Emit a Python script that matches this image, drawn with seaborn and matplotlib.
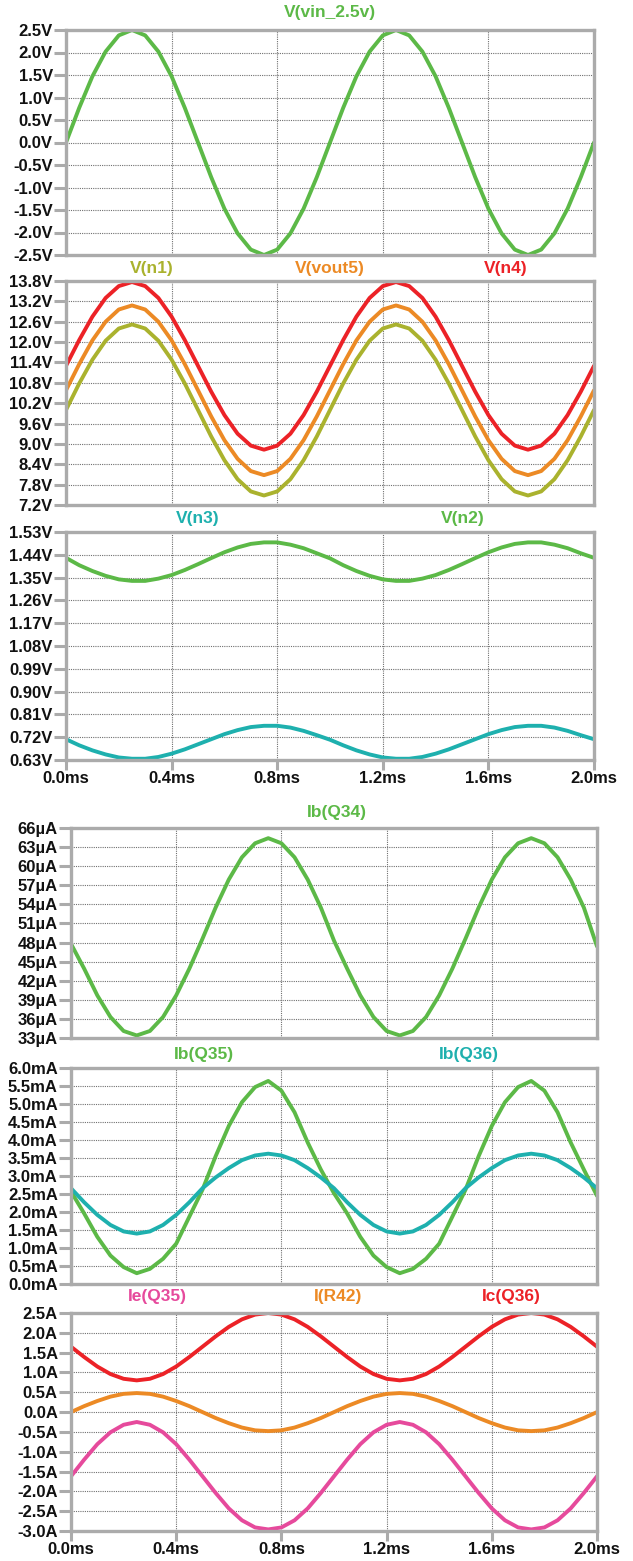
import matplotlib
matplotlib.use("Agg")
import matplotlib.pyplot as plt
import seaborn as sns
import pandas as pd

# ---------------- data ----------------
t_ms = [0.00, 0.05, 0.10, 0.15, 0.20, 0.25, 0.30, 0.35, 0.40, 0.45,
        0.50, 0.55, 0.60, 0.65, 0.70, 0.75, 0.80, 0.85, 0.90, 0.95,
        1.00, 1.05, 1.10, 1.15, 1.20, 1.25, 1.30, 1.35, 1.40, 1.45,
        1.50, 1.55, 1.60, 1.65, 1.70, 1.75, 1.80, 1.85, 1.90, 1.95, 2.00]

v_vin = [0.00, 0.77, 1.47, 2.02, 2.38, 2.50, 2.38, 2.02, 1.47, 0.77,
         0.00, -0.77, -1.47, -2.02, -2.38, -2.50, -2.38, -2.02, -1.47, -0.77,
         0.00, 0.77, 1.47, 2.02, 2.38, 2.50, 2.38, 2.02, 1.47, 0.77,
         0.00, -0.77, -1.47, -2.02, -2.38, -2.50, -2.38, -2.02, -1.47, -0.77, 0.00]

v_n4 = [11.30, 12.06, 12.75, 13.30, 13.65, 13.77, 13.65, 13.30, 12.75, 12.06,
        11.30, 10.54, 9.85, 9.30, 8.95, 8.83, 8.95, 9.30, 9.85, 10.54,
        11.30, 12.06, 12.75, 13.30, 13.65, 13.77, 13.65, 13.30, 12.75, 12.06,
        11.30, 10.54, 9.85, 9.30, 8.95, 8.83, 8.95, 9.30, 9.85, 10.54, 11.30]
v_vout5 = [10.58, 11.35, 12.05, 12.60, 12.96, 13.08, 12.96, 12.60, 12.05, 11.35,
           10.58, 9.81, 9.11, 8.56, 8.20, 8.08, 8.20, 8.56, 9.11, 9.81,
           10.58, 11.35, 12.05, 12.60, 12.96, 13.08, 12.96, 12.60, 12.05, 11.35,
           10.58, 9.81, 9.11, 8.56, 8.20, 8.08, 8.20, 8.56, 9.11, 9.81, 10.58]
v_n1 = [10.00, 10.78, 11.48, 12.04, 12.40, 12.52, 12.40, 12.04, 11.48, 10.78,
        10.00, 9.22, 8.52, 7.96, 7.60, 7.48, 7.60, 7.96, 8.52, 9.22,
        10.00, 10.78, 11.48, 12.04, 12.40, 12.52, 12.40, 12.04, 11.48, 10.78,
        10.00, 9.22, 8.52, 7.96, 7.60, 7.48, 7.60, 7.96, 8.52, 9.22, 10.00]

v_n2 = [1.428, 1.399, 1.376, 1.357, 1.343, 1.337, 1.337, 1.346, 1.360, 1.380,
        1.403, 1.427, 1.450, 1.469, 1.483, 1.489, 1.489, 1.480, 1.466, 1.446,
        1.426, 1.399, 1.376, 1.357, 1.343, 1.337, 1.337, 1.346, 1.360, 1.380,
        1.403, 1.427, 1.450, 1.469, 1.483, 1.489, 1.489, 1.480, 1.466, 1.446, 1.428]
v_n3 = [0.712, 0.688, 0.668, 0.652, 0.640, 0.635, 0.635, 0.642, 0.655, 0.672,
        0.692, 0.712, 0.732, 0.748, 0.760, 0.765, 0.765, 0.758, 0.745, 0.728,
        0.710, 0.688, 0.668, 0.652, 0.640, 0.635, 0.635, 0.642, 0.655, 0.672,
        0.692, 0.712, 0.732, 0.748, 0.760, 0.765, 0.765, 0.758, 0.745, 0.728, 0.712]

ib_q34 = [47.8, 43.9, 39.7, 36.3, 34.1, 33.4, 34.1, 36.3, 39.7, 43.9,
          48.6, 53.5, 57.9, 61.4, 63.6, 64.4, 63.6, 61.4, 57.9, 53.5,
          48.3, 43.9, 39.7, 36.3, 34.1, 33.4, 34.1, 36.3, 39.7, 43.9,
          48.6, 53.5, 57.9, 61.4, 63.6, 64.4, 63.6, 61.4, 57.9, 53.5, 47.4]

ib_q35 = [2.57, 1.96, 1.31, 0.79, 0.47, 0.30, 0.42, 0.70, 1.12, 1.87,
          2.62, 3.55, 4.39, 5.05, 5.47, 5.64, 5.37, 4.77, 3.93, 3.18,
          2.52, 1.96, 1.31, 0.79, 0.47, 0.30, 0.42, 0.70, 1.12, 1.87,
          2.62, 3.55, 4.39, 5.05, 5.47, 5.64, 5.37, 4.77, 3.93, 3.18, 2.45]
ib_q36 = [2.66, 2.27, 1.92, 1.64, 1.46, 1.40, 1.46, 1.64, 1.92, 2.27,
          2.66, 2.96, 3.22, 3.44, 3.57, 3.62, 3.57, 3.44, 3.22, 2.96,
          2.66, 2.27, 1.92, 1.64, 1.46, 1.40, 1.46, 1.64, 1.92, 2.27,
          2.66, 2.96, 3.22, 3.44, 3.57, 3.62, 3.57, 3.44, 3.22, 2.96, 2.66]

ic_q36 = [1.65, 1.39, 1.15, 0.96, 0.84, 0.80, 0.84, 0.96, 1.15, 1.39,
          1.65, 1.91, 2.15, 2.34, 2.46, 2.50, 2.46, 2.34, 2.15, 1.91,
          1.65, 1.39, 1.15, 0.96, 0.84, 0.80, 0.84, 0.96, 1.15, 1.39,
          1.65, 1.91, 2.15, 2.34, 2.46, 2.50, 2.46, 2.34, 2.15, 1.91, 1.65]
i_r42 = [0.00, 0.15, 0.28, 0.39, 0.46, 0.48, 0.46, 0.39, 0.28, 0.15,
         0.00, -0.15, -0.28, -0.39, -0.46, -0.48, -0.46, -0.39, -0.28, -0.15,
         0.00, 0.15, 0.28, 0.39, 0.46, 0.48, 0.46, 0.39, 0.28, 0.15,
         0.00, -0.15, -0.28, -0.39, -0.46, -0.48, -0.46, -0.39, -0.28, -0.15, 0.00]
ie_q35 = [-1.62, -1.20, -0.81, -0.51, -0.32, -0.25, -0.32, -0.51, -0.81, -1.20,
          -1.62, -2.04, -2.43, -2.73, -2.91, -2.96, -2.91, -2.73, -2.43, -2.04,
          -1.62, -1.20, -0.81, -0.51, -0.32, -0.25, -0.32, -0.51, -0.81, -1.20,
          -1.62, -2.04, -2.43, -2.73, -2.91, -2.96, -2.91, -2.73, -2.43, -2.04, -1.62]

x_ticks = [0.0, 0.4, 0.8, 1.2, 1.6, 2.0]
x_tick_labels = ["0.0ms", "0.4ms", "0.8ms", "1.2ms", "1.6ms", "2.0ms"]

# ---------------- style ----------------
sns.set_theme(style="white")
plt.rcParams["font.family"] = ["Liberation Sans", "DejaVu Sans"]

GREEN = "#5cb947"
RED = "#ec2227"
ORANGE = "#ec8a25"
OLIVE = "#aab22e"
TEAL = "#1eb0ae"
PINK = "#e64a9c"
FRAME = "#ababab"
GRID = "#707070"
FS_TICK = 12
FS_TITLE = 12.5

W, H = 633, 1561
fig = plt.figure(figsize=(W / 100, H / 100), dpi=100)
fig.patch.set_facecolor("white")


def make_ax(x0, x1, y0, y1):
    return fig.add_axes([x0 / W, 1 - y1 / H, (x1 - x0) / W, (y1 - y0) / H])


panels = [
    dict(rect=(66, 594, 30, 255), ylim=(-2.5, 2.5),
         yticks=[-2.5, -2.0, -1.5, -1.0, -0.5, 0.0, 0.5, 1.0, 1.5, 2.0, 2.5],
         fmt=lambda v: f"{v:.1f}V",
         series=[("V(vin_2.5v)", v_vin, GREEN)],
         titles=[("V(vin_2.5v)", 0.50, GREEN)], bottom=False, ty=18),
    dict(rect=(66, 594, 281, 505), ylim=(7.2, 13.8),
         yticks=[7.2, 7.8, 8.4, 9.0, 9.6, 10.2, 10.8, 11.4, 12.0, 12.6, 13.2, 13.8],
         fmt=lambda v: f"{v:.1f}V",
         series=[("V(n1)", v_n1, OLIVE), ("V(vout5)", v_vout5, ORANGE), ("V(n4)", v_n4, RED)],
         titles=[("V(n1)", 0.163, OLIVE), ("V(vout5)", 0.50, ORANGE), ("V(n4)", 0.833, RED)],
         bottom=False, ty=13),
    dict(rect=(66, 594, 532, 760), ylim=(0.63, 1.53),
         yticks=[0.63, 0.72, 0.81, 0.90, 0.99, 1.08, 1.17, 1.26, 1.35, 1.44, 1.53],
         fmt=lambda v: f"{v:.2f}V",
         series=[("V(n3)", v_n3, TEAL), ("V(n2)", v_n2, GREEN)],
         titles=[("V(n3)", 0.25, TEAL), ("V(n2)", 0.752, GREEN)], bottom=True, ty=13),
    dict(rect=(71, 597, 828, 1038), ylim=(33, 66),
         yticks=[33, 36, 39, 42, 45, 48, 51, 54, 57, 60, 63, 66],
         fmt=lambda v: f"{v:.0f}µA",
         series=[("Ib(Q34)", ib_q34, GREEN)],
         titles=[("Ib(Q34)", 0.505, GREEN)], bottom=False, ty=16),
    dict(rect=(71, 597, 1068, 1284), ylim=(0.0, 6.0),
         yticks=[0.0, 0.5, 1.0, 1.5, 2.0, 2.5, 3.0, 3.5, 4.0, 4.5, 5.0, 5.5, 6.0],
         fmt=lambda v: f"{v:.1f}mA",
         series=[("Ib(Q35)", ib_q35, GREEN), ("Ib(Q36)", ib_q36, TEAL)],
         titles=[("Ib(Q35)", 0.252, GREEN), ("Ib(Q36)", 0.757, TEAL)], bottom=False, ty=13),
    dict(rect=(71, 597, 1313, 1531), ylim=(-3.0, 2.5),
         yticks=[-3.0, -2.5, -2.0, -1.5, -1.0, -0.5, 0.0, 0.5, 1.0, 1.5, 2.0, 2.5],
         fmt=lambda v: f"{v:.1f}A",
         series=[("Ie(Q35)", ie_q35, PINK), ("I(R42)", i_r42, ORANGE), ("Ic(Q36)", ic_q36, RED)],
         titles=[("Ie(Q35)", 0.164, PINK), ("I(R42)", 0.508, ORANGE), ("Ic(Q36)", 0.837, RED)],
         bottom=True, ty=16),
]

for p in panels:
    ax = make_ax(*p["rect"])
    ax.set_facecolor("white")
    for name, vals, col in p["series"]:
        df = pd.DataFrame({"t": t_ms, "v": vals})
        sns.lineplot(data=df, x="t", y="v", ax=ax, color=col, lw=2.8,
                     estimator=None, sort=False, zorder=3,
                     solid_joinstyle="round", solid_capstyle="round")
    ax.set_xlim(0, 2.0)
    ax.set_ylim(*p["ylim"])
    ax.set_xlabel("")
    ax.set_ylabel("")
    for yv in p["yticks"][1:-1]:
        ax.axhline(yv, color=GRID, lw=0.8, ls=(0, (1, 1)), zorder=1)
    for xv in x_ticks[1:-1]:
        ax.axvline(xv, color=GRID, lw=0.8, ls=(0, (1, 1)), zorder=1)
    ax.set_yticks(p["yticks"])
    ax.set_yticklabels([p["fmt"](v) for v in p["yticks"]],
                       fontsize=FS_TICK, fontweight="bold", color="#111111")
    ax.tick_params(axis="y", direction="out", length=9, width=2.2,
                   color=FRAME, pad=0.5, left=True)
    ax.set_xticks(x_ticks)
    if p["bottom"]:
        ax.set_xticklabels(x_tick_labels, fontsize=FS_TICK, fontweight="bold",
                           color="#111111")
        ax.tick_params(axis="x", direction="out", length=7, width=2.2,
                       color=FRAME, pad=1, bottom=True)
    else:
        ax.tick_params(axis="x", bottom=False, labelbottom=False)
    for sp in ax.spines.values():
        sp.set_visible(True)
        sp.set_color(FRAME)
        sp.set_linewidth(2.4)
        sp.set_capstyle("projecting")
        sp.set_zorder(4)
    h = p["rect"][3] - p["rect"][2]
    for label, xf, col in p["titles"]:
        ax.text(xf, 1 + p["ty"] / h, label, transform=ax.transAxes,
                ha="center", va="center", fontsize=FS_TITLE, fontweight="bold",
                color=col)

fig.savefig("out.png", dpi=100, facecolor="white")
